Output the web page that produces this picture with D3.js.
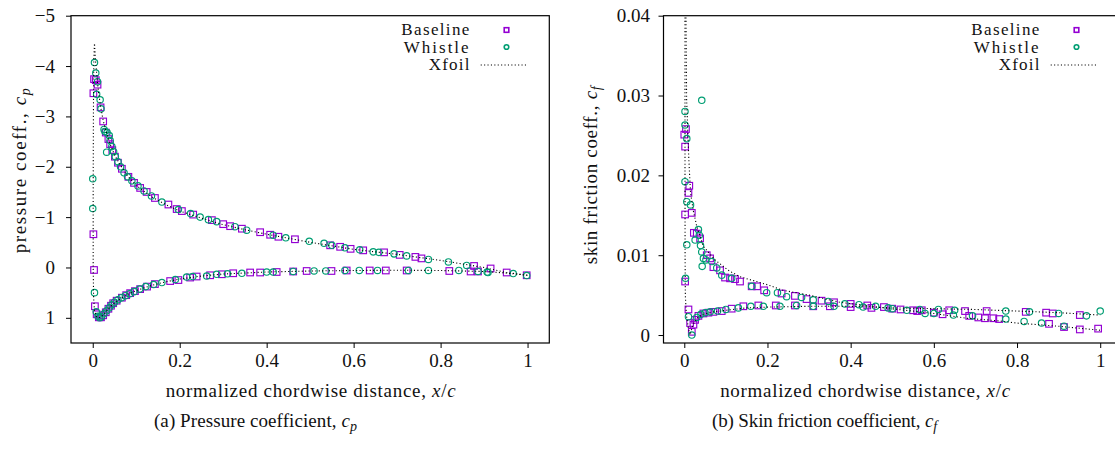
<!DOCTYPE html>
<html><head><meta charset="utf-8">
<script src="https://cdn.jsdelivr.net/npm/d3@7"></script>
<style>
html,body{margin:0;padding:0;background:#fff;}
</style></head>
<body>
<svg id="chart" width="1115" height="457" style="font-family:'Liberation Serif','DejaVu Serif',serif"></svg>
<script>
// ---------------- DATA ----------------
const seriesNames = ["Baseline", "Whistle", "Xfoil"];
const xTicks = [0, 0.2, 0.4, 0.6, 0.8, 1];
const xTickLabels = ["0", "0.2", "0.4", "0.6", "0.8", "1"];
const cpTicks = [-5, -4, -3, -2, -1, 0, 1];
const cpTickLabels = ["\u22125", "\u22124", "\u22123", "\u22122", "\u22121", "0", "1"];
const cfTicks = [0, 0.01, 0.02, 0.03, 0.04];
const cfTickLabels = ["0", "0.01", "0.02", "0.03", "0.04"];

// pressure coefficient [x/c, cp]
const cpBaseline = [
[0.998,0.155],[0.952,0.10],[0.915,0.02],[0.877,-0.03],[0.756,-0.18],[0.742,-0.21],[0.706,-0.25],[0.670,-0.30],
[0.622,-0.34],[0.593,-0.37],[0.569,-0.41],[0.546,-0.44],[0.465,-0.56],[0.427,-0.61],[0.408,-0.65],[0.385,-0.70],
[0.343,-0.77],[0.316,-0.82],[0.300,-0.86],[0.274,-0.94],[0.231,-1.05],[0.205,-1.12],[0.193,-1.16],[0.174,-1.25],
[0.143,-1.38],[0.124,-1.50],[0.109,-1.58],[0.095,-1.68],[0.082,-1.80],[0.067,-1.96],[0.058,-2.08],[0.051,-2.20],
[0.045,-2.33],[0.040,-2.45],[0.036,-2.55],[0.030,-2.68],[0.024,-2.90],[0.018,-3.18],[0.011,-3.63],[0.007,-3.72],
[0.003,-3.74],[0.0015,-3.46],
[0.0015,-0.66],[0.003,0.05],[0.005,0.77],[0.009,0.93],[0.014,0.99],[0.019,0.99],[0.024,0.95],[0.030,0.89],
[0.036,0.82],[0.042,0.76],[0.047,0.71],[0.055,0.66],[0.067,0.60],[0.077,0.55],[0.086,0.51],[0.097,0.47],
[0.109,0.43],[0.125,0.38],[0.143,0.33],[0.178,0.27],[0.197,0.25],[0.224,0.20],[0.239,0.18],[0.270,0.155],
[0.297,0.135],[0.323,0.115],[0.362,0.10],[0.385,0.10],[0.423,0.09],[0.461,0.08],[0.492,0.07],[0.549,0.07],
[0.584,0.06],[0.637,0.06],[0.674,0.06],[0.722,0.06],[0.820,0.07],[0.869,0.08],[0.886,0.08]
];
const cpWhistle = [
[0.998,0.16],[0.967,0.12],[0.907,0.09],[0.860,-0.04],[0.818,-0.11],[0.772,-0.16],[0.722,-0.23],[0.693,-0.27],
[0.658,-0.30],[0.645,-0.31],[0.614,-0.35],[0.580,-0.39],[0.550,-0.44],[0.532,-0.48],[0.498,-0.52],[0.444,-0.59],
[0.415,-0.64],[0.354,-0.74],[0.327,-0.81],[0.285,-0.91],[0.266,-0.95],[0.247,-1.00],[0.225,-1.07],[0.197,-1.15],
[0.159,-1.30],[0.135,-1.42],[0.118,-1.52],[0.104,-1.62],[0.090,-1.72],[0.080,-1.80],[0.072,-1.88],[0.064,-2.00],
[0.058,-2.10],[0.052,-2.20],[0.048,-2.30],[0.044,-2.40],[0.040,-2.52],[0.038,-2.62],[0.033,-2.68],[0.028,-2.70],
[0.026,-2.74],[0.032,-2.29],[0.019,-3.15],[0.017,-3.33],[0.009,-3.44],[0.011,-3.69],[0.007,-3.86],[0.004,-4.07],
[0.000,-1.76],[0.000,-1.17],[0.004,0.50],[0.008,0.88],[0.012,0.97],[0.016,1.00],[0.020,0.98],[0.026,0.92],
[0.032,0.86],[0.038,0.80],[0.044,0.74],[0.050,0.69],[0.058,0.64],[0.066,0.60],[0.075,0.56],[0.085,0.52],
[0.095,0.48],[0.108,0.43],[0.122,0.38],[0.140,0.34],[0.159,0.30],[0.190,0.24],[0.216,0.19],[0.230,0.18],
[0.262,0.17],[0.285,0.135],[0.310,0.125],[0.343,0.115],[0.400,0.09],[0.415,0.09],[0.461,0.08],[0.509,0.07],
[0.536,0.07],[0.580,0.06],[0.613,0.06],[0.655,0.06],[0.726,0.06],[0.772,0.06],[0.842,0.06],[0.886,0.08],[0.909,0.10]
];
const cpXfoil = [
[1.0,0.155],[0.95,0.10],[0.90,0.0],[0.85,-0.07],[0.80,-0.14],[0.75,-0.20],[0.70,-0.26],[0.65,-0.31],[0.60,-0.36],
[0.55,-0.43],[0.50,-0.50],[0.45,-0.58],[0.40,-0.66],[0.35,-0.75],[0.30,-0.85],[0.25,-0.98],[0.20,-1.12],[0.17,-1.24],
[0.14,-1.38],[0.12,-1.50],[0.10,-1.63],[0.08,-1.82],[0.06,-2.08],[0.05,-2.24],[0.04,-2.45],[0.03,-2.72],[0.024,-2.92],
[0.018,-3.20],[0.013,-3.50],[0.009,-3.85],[0.006,-4.15],[0.004,-4.45],[0.0025,-4.15],[0.0015,-3.0],[0.001,-1.5],
[0.001,0.0],[0.002,0.6],[0.004,0.85],[0.008,0.97],[0.013,1.0],[0.018,0.99],[0.025,0.93],[0.035,0.83],[0.045,0.74],
[0.06,0.64],[0.08,0.53],[0.10,0.46],[0.13,0.37],[0.16,0.30],[0.20,0.23],[0.25,0.17],[0.30,0.13],[0.35,0.11],
[0.40,0.09],[0.50,0.07],[0.60,0.06],[0.70,0.055],[0.80,0.06],[0.90,0.08],[0.95,0.11],[1.0,0.155]
];

// skin friction coefficient [x/c, cf]
const cfBaseline = [
[0.000,0.0251],[0.004,0.0258],[0.002,0.0236],[0.012,0.0187],[0.010,0.0178],[0.018,0.0153],[0.002,0.0151],[0.023,0.0128],
[0.030,0.0127],[0.038,0.0121],[0.054,0.0100],[0.062,0.0096],[0.070,0.0085],[0.086,0.0081],[0.098,0.0072],[0.110,0.0071],
[0.122,0.0070],[0.134,0.0067],[0.162,0.0061],[0.175,0.0061],[0.192,0.0056],[0.234,0.0052],[0.266,0.0049],[0.294,0.0045],
[0.330,0.0043],[0.360,0.0041],[0.400,0.0039],[0.440,0.0037],[0.480,0.0035],[0.520,0.0032],[0.560,0.0030],[0.600,0.0028],
[0.621,0.0026],[0.685,0.0024],[0.707,0.0022],[0.723,0.0021],[0.743,0.0021],[0.757,0.0020],[0.877,0.0014],[0.913,0.0010],
[0.951,0.0007],[0.995,0.0008],
[0.002,0.0067],[0.010,0.0032],[0.014,0.0015],[0.018,0.0004],[0.022,0.0013],[0.026,0.0019],[0.034,0.0024],[0.046,0.0027],
[0.058,0.0028],[0.070,0.0029],[0.090,0.0030],[0.114,0.0033],[0.142,0.0036],[0.178,0.0037],[0.220,0.0037],[0.266,0.0037],
[0.310,0.0036],[0.350,0.0036],[0.400,0.0035],[0.450,0.0034],[0.500,0.0033],[0.550,0.0031],[0.571,0.0031],[0.637,0.0031],
[0.675,0.0030],[0.727,0.0030],[0.821,0.0029],[0.870,0.0028],[0.886,0.0027],[0.951,0.0025]
];
const cfWhistle = [
[0.042,0.0294],[0.0017,0.0280],[0.0017,0.0263],[0.006,0.0246],[0.0017,0.0192],[0.006,0.0167],[0.015,0.0163],[0.006,0.0113],
[0.034,0.0132],[0.036,0.0125],[0.026,0.0119],[0.039,0.0112],[0.042,0.0104],[0.046,0.0096],[0.052,0.0094],[0.043,0.0086],
[0.066,0.0092],[0.078,0.0084],[0.090,0.0075],[0.114,0.0071],[0.162,0.0061],[0.198,0.0053],[0.224,0.0053],[0.246,0.0048],
[0.282,0.0047],[0.310,0.0044],[0.346,0.0042],[0.386,0.0039],[0.420,0.0038],[0.460,0.0036],[0.500,0.0033],[0.579,0.0027],
[0.600,0.0027],[0.647,0.0025],[0.693,0.0024],[0.773,0.0020],[0.817,0.0017],[0.859,0.0015],[0.913,0.0011],
[0.003,0.0071],[0.010,0.0023],[0.018,0.0000],[0.030,0.0022],[0.040,0.0026],[0.050,0.0028],[0.062,0.0029],[0.080,0.0030],
[0.100,0.0032],[0.130,0.0034],[0.160,0.0036],[0.190,0.0036],[0.230,0.0036],[0.270,0.0037],[0.310,0.0036],[0.360,0.0036],
[0.430,0.0035],[0.490,0.0034],[0.535,0.0031],[0.566,0.0032],[0.611,0.0032],[0.650,0.0031],[0.773,0.0030],[0.830,0.0029],
[0.900,0.0027],[0.967,0.0024],[1.000,0.0030]
];
const cfXfoilUpper = [
[0.003,0.050],[0.004,0.040],[0.0056,0.0295],[0.011,0.0219],[0.015,0.0178],[0.022,0.0155],[0.030,0.0136],[0.046,0.0111],
[0.074,0.0094],[0.106,0.0081],[0.134,0.0073],[0.200,0.0063],[0.237,0.0056],[0.300,0.0050],[0.374,0.0041],[0.450,0.0036],
[0.494,0.0033],[0.550,0.0030],[0.600,0.0027],[0.679,0.0021],[0.750,0.0018],[0.800,0.0015],[0.900,0.0011],[1.000,0.0006]
];
const cfXfoilLower = [
[0.0016,0.050],[0.0017,0.020],[0.0019,0.010],[0.0025,0.005],[0.005,0.0025],[0.010,0.0008],[0.014,0.0000],[0.020,0.0012],
[0.030,0.0021],[0.045,0.0026],[0.070,0.0029],[0.100,0.0031],[0.150,0.0034],[0.200,0.0035],[0.300,0.0036],[0.400,0.0036],
[0.500,0.0034],[0.600,0.0033],[0.700,0.0032],[0.800,0.0030],[0.900,0.0028],[1.000,0.0025]
];

// ---------------- DRAWING ----------------
const FONT = "'Liberation Serif','DejaVu Serif',serif";
const purple = "#9400d3", green = "#009e73";
const svg = d3.select("#chart");
svg.append("rect").attr("width",1115).attr("height",457).attr("fill","#fff");

function fitText(sel, target){
  const n = sel.text().length;
  const len = sel.node().getComputedTextLength();
  sel.attr("letter-spacing", ((target - len) / (n - 1)).toFixed(3));
}
function txt(parent, size){
  return parent.append("text").style("font-family", FONT).style("font-size", size + "px").attr("fill", "#111");
}

function drawPanel(cfg){
  const x = d3.scaleLinear().domain([-0.05,1.05]).range([cfg.left, cfg.right]);
  const y = d3.scaleLinear().domain(cfg.yDomain).range([343, 15.7]);
  const g = svg.append("g");
  const clipId = "clip" + cfg.id;
  svg.append("clipPath").attr("id", clipId).append("rect")
    .attr("x", cfg.left).attr("y", 15.7).attr("width", cfg.right-cfg.left).attr("height", 343-15.7);

  // axes
  const xa = g.append("g").attr("transform","translate(0,343)")
    .call(d3.axisBottom(x).tickValues(xTicks).tickFormat((d,i)=>xTickLabels[i]).tickSize(5).tickPadding(5.5));
  const ya = g.append("g").attr("transform",`translate(${cfg.left},0)`)
    .call(d3.axisLeft(y).tickValues(cfg.yTicks).tickFormat((d,i)=>cfg.yTickLabels[i]).tickSize(5).tickPadding(cfg.yPad));
  [xa, ya].forEach(a=>{
    a.attr("font-family", FONT).attr("font-size", 19);
    a.select(".domain").remove();
    a.selectAll("line").attr("stroke","#000").attr("stroke-width",1);
    a.selectAll("text").style("font-family", FONT).style("font-size","19px").attr("fill","#111");
  });

  const plot = g.append("g").attr("clip-path",`url(#${clipId})`);
  // Baseline squares
  const s = 6.6;
  plot.append("g").selectAll("rect").data(cfg.base).join("rect")
    .attr("x", d=>x(d[0])-s/2).attr("y", d=>y(d[1])-s/2).attr("width", s).attr("height", s)
    .attr("fill","none").attr("stroke",purple).attr("stroke-width",1.15);
  // Whistle circles
  plot.append("g").selectAll("circle").data(cfg.wh).join("circle")
    .attr("cx", d=>x(d[0])).attr("cy", d=>y(d[1])).attr("r", 3.2)
    .attr("fill","none").attr("stroke",green).attr("stroke-width",1.15);
  // Xfoil
  const line = d3.line().x(d=>x(d[0])).y(d=>y(d[1]));
  cfg.xfoil.forEach(arr=>{
    plot.append("path").attr("d", line(arr)).attr("fill","none")
      .attr("stroke","#000").attr("stroke-width",1.1).attr("stroke-dasharray","1.1,2.3");
  });

  // frame
  g.append("rect").attr("x",cfg.left).attr("y",15.7).attr("width",cfg.right-cfg.left).attr("height",343-15.7)
    .attr("fill","none").attr("stroke","#000").attr("stroke-width",1.2);

  // legend
  const lx = cfg.legEnd;
  const rows = [35, 52.7, 70.3];
  const legW = [68, 65, 40.7];
  seriesNames.forEach((n,i)=>{
    const t = txt(g, 17).attr("x",lx).attr("y",rows[i]).attr("text-anchor","end").text(n);
    fitText(t, legW[i]);
  });
  g.append("rect").attr("x",lx+33.5).attr("y",27.7).attr("width",4.6).attr("height",4.6)
    .attr("fill","none").attr("stroke",purple).attr("stroke-width",1.6);
  g.append("circle").attr("cx",lx+35.8).attr("cy",47).attr("r",2.3)
    .attr("fill","none").attr("stroke",green).attr("stroke-width",1.6);
  g.append("line").attr("x1",lx+10).attr("x2",lx+57).attr("y1",65).attr("y2",65)
    .attr("stroke","#000").attr("stroke-width",1.1).attr("stroke-dasharray","1.1,2.3");

  // x label
  const xl = txt(svg, 19).attr("x",cfg.xlabCx).attr("y",397).attr("text-anchor","middle");
  xl.append("tspan").text("normalized chordwise distance, ");
  xl.append("tspan").attr("font-style","italic").text("x");
  xl.append("tspan").text("/");
  xl.append("tspan").attr("font-style","italic").text("c");
  fitText(xl, 290);

  // y label
  const yl = txt(svg, 19).attr("transform",`translate(${cfg.ylabX},${cfg.ylabCy}) rotate(-90)`)
    .attr("text-anchor","middle");
  yl.append("tspan").text(cfg.ylab);
  yl.append("tspan").attr("font-style","italic").text("c");
  yl.append("tspan").attr("font-style","italic").attr("dy",4).style("font-size","14px").text(cfg.sub);
  fitText(yl, cfg.ylabLen);

  // caption
  const cap = txt(svg, 19).attr("x",cfg.capCx).attr("y",427).attr("text-anchor","middle");
  cap.append("tspan").text(cfg.cap);
  cap.append("tspan").attr("font-style","italic").text("c");
  cap.append("tspan").attr("font-style","italic").attr("dy",4).style("font-size","14px").text(cfg.sub);
  fitText(cap, cfg.capLen);
}

drawPanel({
  id:"a", left:71, right:549.3, yDomain:[1.5,-5], yTicks:cpTicks, yTickLabels:cpTickLabels, yPad:11,
  base:cpBaseline, wh:cpWhistle, xfoil:[cpXfoil], legEnd:470.7,
  xlabCx:311, ylabX:26, ylabCy:170, ylab:"pressure coeff., ", sub:"p", ylabLen:165,
  capCx:255.5, cap:"(a) Pressure coefficient, ", capLen:203
});
drawPanel({
  id:"b", left:663.5, right:1121, yDomain:[-0.001,0.04], yTicks:cfTicks, yTickLabels:cfTickLabels, yPad:8.5,
  base:cfBaseline, wh:cfWhistle, xfoil:[cfXfoilUpper, cfXfoilLower], legEnd:1040.7,
  xlabCx:865.5, ylabX:597, ylabCy:175, ylab:"skin friction coeff., ", sub:"f", ylabLen:178,
  capCx:824.5, cap:"(b) Skin friction coefficient, ", capLen:225
});
</script>
</body></html>
